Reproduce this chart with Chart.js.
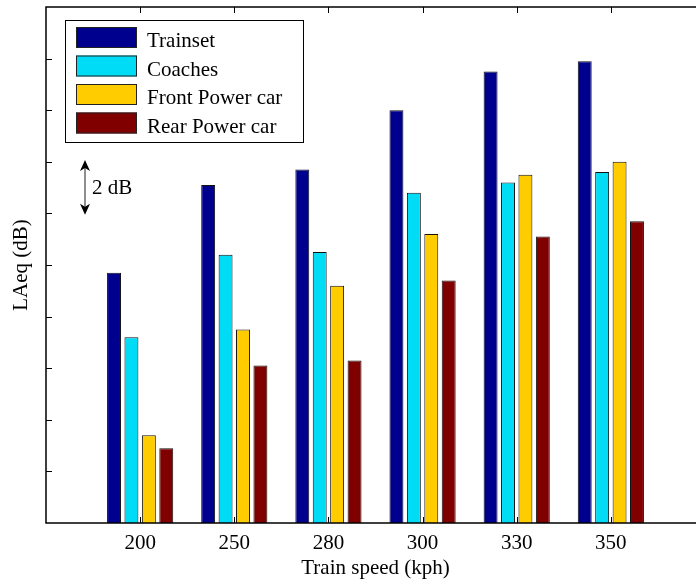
<!DOCTYPE html>
<html>
<head>
<meta charset="utf-8">
<title>LAeq vs train speed</title>
<script src="https://cdn.jsdelivr.net/npm/chart.js@4/dist/chart.umd.min.js"></script>
<style>
  html, body { margin: 0; padding: 0; background: #fff; overflow: hidden; }
  #wrap { position: relative; width: 712px; height: 582px; }
</style>
</head>
<body>
<div id="wrap"><canvas id="chart" width="712" height="582"></canvas></div>
<script>
// Speeds (kph) - empty slots at both ends keep the MATLAB-style margins
const speeds = ['', '200', '250', '280', '300', '330', '350', ''];

// LAeq (dB), one array per series
const trainset  = [null, 79.7, 83.1, 83.7, 86.0, 87.5, 87.9, null];
const coaches   = [null, 77.2, 80.4, 80.5, 82.8, 83.2, 83.6, null];
const frontCar  = [null, 73.4, 77.5, 79.2, 81.2, 83.5, 84.0, null];
const rearCar   = [null, 72.9, 76.1, 76.3, 79.4, 81.1, 81.7, null];

// y range and tick step (ticks are unlabeled in the original)
const yMin = 70;
const yMax = 90;
const yStep = 2;

const serif = "'Liberation Serif', 'Times New Roman', serif";

// inward ticks on all four sides + the axes box
const frameAndTicks = {
    id: 'frameAndTicks',
    afterDatasetsDraw(chart) {
        const { ctx, chartArea: ca, scales: { x, y } } = chart;
        ctx.save();
        ctx.strokeStyle = '#000';
        ctx.lineWidth = 1;
        ctx.beginPath();
        y.ticks.forEach(t => {
            if (t.value <= yMin || t.value >= yMax) return;
            const py = Math.round(y.getPixelForValue(t.value)) + 0.5;
            ctx.moveTo(ca.left, py);
            ctx.lineTo(ca.left + 6, py);
            ctx.moveTo(ca.right, py);
            ctx.lineTo(ca.right - 6, py);
        });
        speeds.forEach((s, i) => {
            if (!s) return;
            const px = Math.round(x.getPixelForValue(i)) + 0.5;
            ctx.moveTo(px, ca.top);
            ctx.lineTo(px, ca.top + 6);
            ctx.moveTo(px, ca.bottom);
            ctx.lineTo(px, ca.bottom - 6);
        });
        ctx.stroke();

        ctx.lineWidth = 1.5;
        ctx.strokeRect(ca.left, ca.top, ca.right - ca.left, ca.bottom - ca.top);
        ctx.restore();
    }
};

// legend box inside the axes, top left
const boxLegend = {
    id: 'boxLegend',
    afterDraw(chart) {
        const { ctx, chartArea: ca } = chart;
        const bx = ca.left + 19, by = ca.top + 13;
        const bw = 238, bh = 122;
        ctx.save();
        ctx.fillStyle = '#fff';
        ctx.fillRect(bx, by, bw, bh);
        ctx.strokeStyle = '#000';
        ctx.lineWidth = 1;
        ctx.strokeRect(bx + 0.5, by + 0.5, bw, bh);

        ctx.font = '21px ' + serif;
        ctx.textBaseline = 'alphabetic';
        chart.data.datasets.forEach((ds, i) => {
            const sy = by + 7 + i * 28.5;
            ctx.fillStyle = ds.backgroundColor;
            ctx.fillRect(bx + 11, sy, 61, 21);
            ctx.strokeStyle = '#222';
            ctx.strokeRect(bx + 11.5, sy + 0.5, 60, 20);
            ctx.fillStyle = '#000';
            ctx.fillText(ds.label, bx + 82, sy + 20);
        });
        ctx.restore();
    }
};

// the "2 dB" scale arrow
const dbArrow = {
    id: 'dbArrow',
    afterDraw(chart) {
        const { ctx, chartArea: ca, scales: { y } } = chart;
        const ax = ca.left + 39;
        const top = y.getPixelForValue(84.07);
        const bot = y.getPixelForValue(81.95);
        ctx.save();
        ctx.strokeStyle = '#444';
        ctx.lineWidth = 1.2;
        ctx.beginPath();
        ctx.moveTo(ax, top + 8);
        ctx.lineTo(ax, bot - 8);
        ctx.stroke();
        ctx.fillStyle = '#000';
        ctx.beginPath();
        ctx.moveTo(ax, top);
        ctx.lineTo(ax - 5, top + 11);
        ctx.lineTo(ax, top + 8);
        ctx.lineTo(ax + 5, top + 11);
        ctx.closePath();
        ctx.fill();
        ctx.beginPath();
        ctx.moveTo(ax, bot);
        ctx.lineTo(ax - 5, bot - 11);
        ctx.lineTo(ax, bot - 8);
        ctx.lineTo(ax + 5, bot - 11);
        ctx.closePath();
        ctx.fill();
        ctx.font = '21px ' + serif;
        ctx.textBaseline = 'middle';
        ctx.fillText('2 dB', ax + 7, (top + bot) / 2 + 1);
        ctx.restore();
    }
};

function makeSet(label, data, color) {
    return {
        label: label,
        data: data,
        backgroundColor: color,
        borderColor: '#111',
        borderWidth: 1,
        borderSkipped: false,
        categoryPercentage: 0.74,
        barPercentage: 0.8
    };
}

const ctx = document.getElementById('chart').getContext('2d');
new Chart(ctx, {
    type: 'bar',
    data: {
        labels: speeds,
        datasets: [
            makeSet('Trainset', trainset, '#00008e'),
            makeSet('Coaches', coaches, '#00dcf5'),
            makeSet('Front Power car', frontCar, '#ffcc00'),
            makeSet('Rear Power car', rearCar, '#800000')
        ]
    },
    options: {
        responsive: false,
        devicePixelRatio: 1,
        animation: false,
        layout: { padding: { top: 7, right: 7, left: 0, bottom: 0 } },
        plugins: {
            legend: { display: false },
            tooltip: { enabled: false }
        },
        scales: {
            x: {
                offset: false,
                grid: { display: false },
                border: { display: false },
                ticks: {
                    color: '#000',
                    font: { family: serif, size: 21 },
                    padding: 0,
                    autoSkip: false,
                    maxRotation: 0
                },
                title: {
                    display: true,
                    text: 'Train speed (kph)',
                    color: '#000',
                    font: { family: serif, size: 21 },
                    padding: { top: 0, bottom: 1 }
                },
                afterFit(scale) { scale.height = 59; }
            },
            y: {
                min: yMin,
                max: yMax,
                grid: { display: false },
                border: { display: false },
                ticks: { display: false, stepSize: yStep },
                title: {
                    display: true,
                    text: 'LAeq (dB)',
                    color: '#000',
                    font: { family: serif, size: 21 },
                    padding: { top: 9, bottom: 0 }
                },
                afterFit(scale) { scale.width = 46; }
            }
        }
    },
    plugins: [frameAndTicks, boxLegend, dbArrow]
});
</script>
</body>
</html>
